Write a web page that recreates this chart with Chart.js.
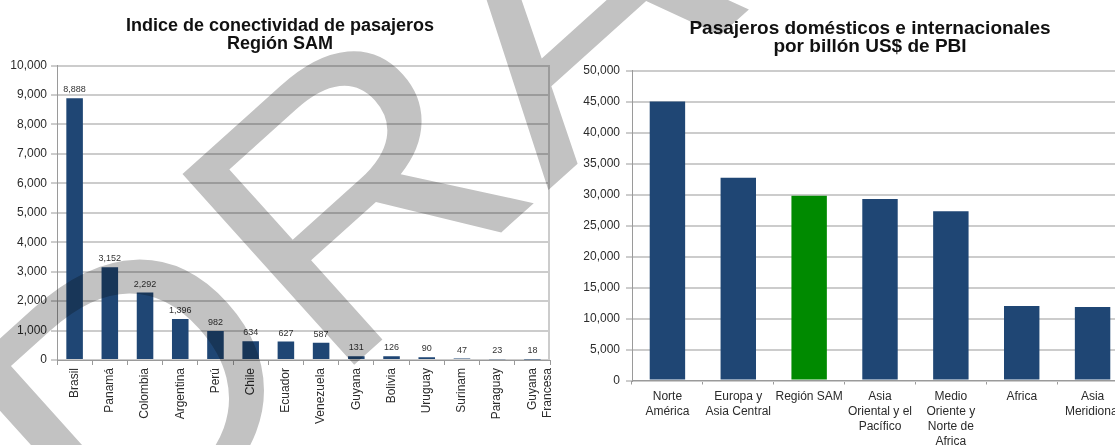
<!DOCTYPE html>
<html><head><meta charset="utf-8">
<script src="https://cdn.jsdelivr.net/npm/chart.js@4.4.1/dist/chart.umd.min.js"></script>
<style>
html,body{margin:0;padding:0;width:1115px;height:445px;overflow:hidden;background:#fff;position:relative;}
#c1{position:absolute;left:0;top:0;}
#c2{position:absolute;left:560px;top:0;}
#wm{position:absolute;left:0;top:0;mix-blend-mode:multiply;pointer-events:none;}
</style></head><body>
<canvas id="c1" width="560" height="445"></canvas>
<canvas id="c2" width="620" height="445"></canvas>
<svg id="wm" width="1115" height="445" xmlns="http://www.w3.org/2000/svg">
  <text x="0" y="0" transform="translate(111 583.8) rotate(-42) scale(1.091 1)" font-family="Liberation Sans, Arial, sans-serif" font-size="373" fill="#c2c2c2">DRAFT</text>
</svg>
<script>
// ---- data ----
const titulo1 = ['Indice de conectividad de pasajeros', 'Región SAM'];
const paises = ['Brasil','Panamá','Colombia','Argentina','Perú','Chile','Ecuador','Venezuela','Guyana','Bolivia','Uruguay','Surinam','Paraguay',['Guyana','Francesa']];
const conectividad = [8888,3152,2292,1396,982,634,627,587,131,126,90,47,23,18];
const ejeY1 = {min:0, max:10000, step:1000};

const titulo2 = ['Pasajeros domésticos e internacionales', 'por billón US$ de PBI'];
const regiones = [['Norte','América'],['Europa y','Asia Central'],'Región SAM',['Asia','Oriental y el','Pacífico'],['Medio','Oriente y','Norte de','Africa'],'Africa',['Asia','Meridional']];
const pasajerosPBI = [45000,32700,29800,29300,27300,12000,11850];
const destacada = 'Región SAM';
const ejeY2 = {min:0, max:50000, step:5000};

// ---- style ----
const FONT = "'Liberation Sans', Arial, Helvetica, sans-serif";
const NAVY = '#1f4674';
const GREEN = '#008a00';
const GRID = '#cccccc';
const AXIS = '#9a9a9a';
const TXT = '#2b2b2b';
const fmt = v => Number(v).toLocaleString('en-US');

const valueLabels = {
  id: 'valueLabels',
  afterDatasetsDraw(chart, args, opts) {
    if (!opts.show) return;
    const ctx = chart.ctx;
    const meta = chart.getDatasetMeta(0);
    const data = chart.data.datasets[0].data;
    ctx.save();
    ctx.font = '9px ' + FONT;
    ctx.fillStyle = '#333';
    ctx.textAlign = 'center';
    ctx.textBaseline = 'alphabetic';
    meta.data.forEach((bar, i) => ctx.fillText(fmt(data[i]), bar.x, bar.y - 6));
    ctx.restore();
  }
};
const rightBorder = {
  id: 'rightBorder',
  beforeDatasetsDraw(chart) {
    const {ctx, chartArea} = chart;
    ctx.save();
    ctx.strokeStyle = GRID; ctx.lineWidth = 2;
    ctx.beginPath();
    ctx.moveTo(chartArea.right - 1, chartArea.top);
    ctx.lineTo(chartArea.right - 1, chartArea.bottom);
    ctx.stroke();
    ctx.restore();
  }
};

function makeChart(id, cfg) {
  return new Chart(document.getElementById(id), {
    type: 'bar',
    data: {labels: cfg.labels, datasets: [{data: cfg.values, backgroundColor: cfg.colors, barPercentage: cfg.barPct, categoryPercentage: 1}]},
    options: {
      responsive: false, animation: false, devicePixelRatio: 1,
      layout: {padding: 0},
      plugins: {
        legend: {display: false}, tooltip: {enabled: false},
        title: {display: true, text: cfg.title, color: '#111',
          font: {family: FONT, size: cfg.titleSize, weight: 'bold', lineHeight: cfg.titleLH},
          padding: {top: cfg.titleTop, bottom: cfg.titleBottom}},
        valueLabels: {show: cfg.showValues}
      },
      scales: {
        x: {
          grid: {display: true, drawOnChartArea: false, drawTicks: true, tickLength: cfg.xTick, color: AXIS, offset: true},
          border: {color: AXIS},
          ticks: {autoSkip: false, minRotation: cfg.rot, maxRotation: cfg.rot, padding: cfg.xPad, color: TXT,
            font: {family: FONT, size: 12, lineHeight: 1.25}},
          afterFit(s) { s.height = cfg.xHeight; s.paddingLeft = 0; s.paddingRight = 0; }
        },
        y: {
          position: 'left',
          min: cfg.axis.min, max: cfg.axis.max,
          ticks: {stepSize: cfg.axis.step, callback: v => fmt(v), color: TXT, padding: cfg.yPad, font: {family: FONT, size: 12}},
          grid: {color: GRID, lineWidth: 2, tickLength: 6, tickColor: AXIS, tickWidth: 1},
          border: {color: AXIS, width: 1},
          afterFit(s) { s.width = cfg.yWidth; }
        },
        spacer: {
          type: 'linear', axis: 'y', position: 'right', display: true,
          grid: {display: false, drawTicks: false}, border: {display: false}, ticks: {display: false},
          afterFit(s) { s.width = cfg.rightSpace; }
        }
      }
    },
    plugins: [valueLabels, rightBorder]
  });
}

makeChart('c1', {
  labels: paises, values: conectividad, colors: NAVY, barPct: 0.47,
  title: titulo1, titleSize: 18, titleLH: 1.0, titleTop: 17, titleBottom: 12.5,
  yWidth: 57, yPad: 4, rightSpace: 10, axis: ejeY1,
  rot: 90, xTick: 5, xPad: 3, xHeight: 85, showValues: true
});

makeChart('c2', {
  labels: regiones, values: pasajerosPBI,
  colors: regiones.map(r => (r === destacada ? GREEN : NAVY)), barPct: 0.5,
  title: titulo2, titleSize: 19, titleLH: 0.95, titleTop: 20, titleBottom: 14.5,
  yWidth: 72, yPad: 6, rightSpace: 52, axis: ejeY2,
  rot: 0, xTick: 4, xPad: 5, xHeight: 445 - 380.5, showValues: false
});
</script>
</body></html>
